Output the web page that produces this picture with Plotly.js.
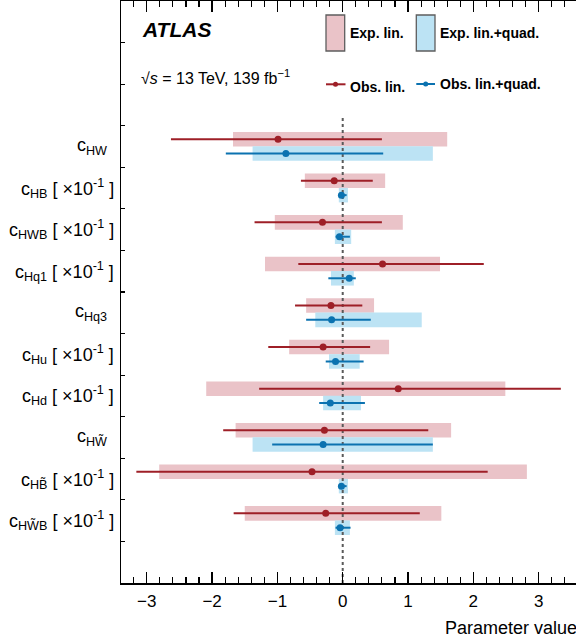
<!DOCTYPE html>
<html>
<head>
<meta charset="utf-8">
<script src="https://cdn.plot.ly/plotly-3.0.1.min.js"></script>
<style>
html,body{margin:0;padding:0;overflow:hidden;background:#fff;}
#chart{width:590px;height:644px;}
</style>
</head>
<body>
<div id="chart"></div>
<script>
// ---- data ----
const labels = [
  "c<sub>HW</sub>",
  "c<sub>HB</sub> [ ×10<sup>-1</sup> ]",
  "c<sub>HWB</sub> [ ×10<sup>-1</sup> ]",
  "c<sub>Hq1</sub> [ ×10<sup>-1</sup> ]",
  "c<sub>Hq3</sub>",
  "c<sub>Hu</sub> [ ×10<sup>-1</sup> ]",
  "c<sub>Hd</sub> [ ×10<sup>-1</sup> ]",
  "c<sub>HW\u0303</sub>",
  "c<sub>HB\u0303</sub> [ ×10<sup>-1</sup> ]",
  "c<sub>HW\u0303B</sub> [ ×10<sup>-1</sup> ]"
];
// Expected (linear) interval
const expLinLo  = [-1.68, -0.58, -1.04, -1.19, -0.56, -0.82, -2.09, -1.64, -2.81, -1.50];
const expLinHi  = [ 1.60,  0.65,  0.92,  1.49,  0.48,  0.71,  2.49,  1.66,  2.82,  1.51];
// Expected (linear + quadratic) interval
const expQuadLo = [-1.38, -0.06, -0.12, -0.18, -0.42, -0.21, -0.30, -1.38, -0.06, -0.12];
const expQuadHi = [ 1.38,  0.08,  0.13,  0.17,  1.21,  0.26,  0.28,  1.38,  0.08,  0.11];
// Observed (linear)
const obsLin    = [-0.99, -0.13, -0.31,  0.61, -0.18, -0.30,  0.85, -0.28, -0.47, -0.26];
const obsLinLo  = [-2.63, -0.64, -1.35, -0.68, -0.73, -1.14, -1.28, -1.83, -3.16, -1.67];
const obsLinHi  = [ 0.60,  0.46,  0.60,  2.16,  0.30,  0.42,  3.34,  1.31,  2.22,  1.18];
// Observed (linear + quadratic)
const obsQuad   = [-0.87, -0.02, -0.05,  0.10, -0.17, -0.11, -0.19, -0.30, -0.02, -0.04];
const obsQuadLo = [-1.79, -0.05, -0.11, -0.22, -0.56, -0.26, -0.36, -1.08, -0.04, -0.11];
const obsQuadHi = [ 0.62,  0.06,  0.11,  0.20,  0.43,  0.32,  0.34,  1.38,  0.06,  0.12];
const xTickVals = [-3, -2, -1, 0, 1, 2, 3];

// ---- styling ----
const RED_FILL = '#eac3c8', BLUE_FILL = '#bce3f4';
const RED = '#9e1f27', BLUE = '#0b72b0';
const FONT = 'Liberation Sans, Arial, Helvetica, sans-serif';

const centers = labels.map((_, i) => 10.5 - i);
const yRed = centers.map(c => c + 0.175);
const yBlue = centers.map(c => c - 0.17);

const traces = [
  {type:'bar', orientation:'h', y:yRed, base:expLinLo,
   x:expLinHi.map((h,i)=>h-expLinLo[i]), width:0.35,
   marker:{color:RED_FILL, line:{width:0}}, showlegend:false, hoverinfo:'skip'},
  {type:'bar', orientation:'h', y:yBlue, base:expQuadLo,
   x:expQuadHi.map((h,i)=>h-expQuadLo[i]), width:0.35,
   marker:{color:BLUE_FILL, line:{width:0}}, showlegend:false, hoverinfo:'skip'},
  {type:'scatter', mode:'lines', x:[0,0], y:[0,11.2],
   line:{color:'#5a5a5a', width:2, dash:'3px,3px'}, showlegend:false, hoverinfo:'skip'},
  {type:'scatter', mode:'markers', x:obsLin, y:yRed,
   marker:{color:RED, size:7},
   error_x:{type:'data', symmetric:false,
     array:obsLinHi.map((h,i)=>h-obsLin[i]),
     arrayminus:obsLin.map((c,i)=>c-obsLinLo[i]),
     color:RED, thickness:2, width:0},
   showlegend:false},
  {type:'scatter', mode:'markers', x:obsQuad, y:yBlue,
   marker:{color:BLUE, size:7},
   error_x:{type:'data', symmetric:false,
     array:obsQuadHi.map((h,i)=>h-obsQuad[i]),
     arrayminus:obsQuad.map((c,i)=>c-obsQuadLo[i]),
     color:BLUE, thickness:2, width:0},
   showlegend:false}
];

// pixel -> paper helpers (plot area 121..585 x 1..583)
const L=121, R=585, T=1, B=583;
const px = x => (x-L)/(R-L);
const py = y => (B-y)/(B-T);

const annotations = labels.map((t,i)=>({
  text:t, xref:'paper', yref:'y', x: t.indexOf('[')>=0 ? px(116) : px(108.5), y:centers[i],
  xanchor:'right', yanchor:'middle', showarrow:false,
  font:{family:FONT, size:18, color:'#000'}
}));
annotations.push(
  {text:'<b><i>ATLAS</i></b>', xref:'paper', yref:'paper', x:px(139.5), y:py(29),
   xanchor:'left', yanchor:'middle', showarrow:false, font:{family:FONT, size:21, color:'#000'}},
  {text:'√<i>s</i> = 13 TeV, 139 fb<sup>−1</sup>', xref:'paper', yref:'paper', x:px(139), y:py(77),
   xanchor:'left', yanchor:'middle', showarrow:false, font:{family:FONT, size:16, color:'#000'}},
  {text:'<b>Exp. lin.</b>', xref:'paper', yref:'paper', x:px(347.5), y:py(32.5),
   xanchor:'left', yanchor:'middle', showarrow:false, font:{family:FONT, size:14, color:'#000'}},
  {text:'<b>Exp. lin.+quad.</b>', xref:'paper', yref:'paper', x:px(438), y:py(32.5),
   xanchor:'left', yanchor:'middle', showarrow:false, font:{family:FONT, size:14, color:'#000'}},
  {text:'<b>Obs. lin.</b>', xref:'paper', yref:'paper', x:px(347.5), y:py(87),
   xanchor:'left', yanchor:'middle', showarrow:false, font:{family:FONT, size:14, color:'#000'}},
  {text:'<b>Obs. lin.+quad.</b>', xref:'paper', yref:'paper', x:px(438), y:py(84),
   xanchor:'left', yanchor:'middle', showarrow:false, font:{family:FONT, size:14, color:'#000'}},
  {text:'Parameter value', xref:'paper', yref:'paper', x:px(442.5), y:py(628),
   xanchor:'left', yanchor:'middle', showarrow:false, font:{family:FONT, size:18, color:'#000'}}
);

const shapes = [
  {type:'rect', xref:'paper', yref:'paper', x0:px(326), x1:px(344.7), y0:py(51), y1:py(15),
   fillcolor:RED_FILL, line:{color:'#5e5e5e', width:1.3}},
  {type:'rect', xref:'paper', yref:'paper', x0:px(416.3), x1:px(435), y0:py(51), y1:py(15),
   fillcolor:BLUE_FILL, line:{color:'#5e5e5e', width:1.3}},
  {type:'line', xref:'paper', yref:'paper', x0:px(326), x1:px(345.5), y0:py(84.3), y1:py(84.3),
   line:{color:RED, width:2}},
  {type:'line', xref:'paper', yref:'paper', x0:px(416.3), x1:px(435), y0:py(84), y1:py(84),
   line:{color:BLUE, width:2}},
  {type:'circle', xref:'paper', yref:'paper', xsizemode:'pixel', ysizemode:'pixel',
   xanchor:px(335.5), yanchor:py(84.3), x0:-2.5, x1:2.5, y0:-2.5, y1:2.5,
   fillcolor:RED, line:{width:0}},
  {type:'circle', xref:'paper', yref:'paper', xsizemode:'pixel', ysizemode:'pixel',
   xanchor:px(425.7), yanchor:py(84), x0:-2.5, x1:2.5, y0:-2.5, y1:2.5,
   fillcolor:BLUE, line:{width:0}}
];

const layout = {
  width:590, height:644,
  margin:{l:121, r:5, t:1, b:61},
  paper_bgcolor:'#fff', plot_bgcolor:'#fff',
  barmode:'overlay',
  showlegend:false,
  font:{family:FONT, color:'#000'},
  xaxis:{
    range:[-3.395, 3.71], tickvals:xTickVals, ticks:'inside', ticklen:11, tickwidth:1.3,
    tickcolor:'#000', showline:true, linecolor:'#000', linewidth:1.5, mirror:'ticks',
    showgrid:false, zeroline:false, tickfont:{family:FONT, size:17, color:'#000'},
    ticklabelstandoff:2,
    minor:{dtick:0.2, tick0:0, ticks:'inside', ticklen:6, tickwidth:1.1, tickcolor:'#000', showgrid:false}
  },
  yaxis:{
    range:[0,14], tickmode:'linear', tick0:0, dtick:1, ticks:'inside', ticklen:4,
    tickwidth:1.1, tickcolor:'#000', showticklabels:false, showline:true, linecolor:'#000',
    linewidth:1.5, mirror:'ticks', showgrid:false, zeroline:false, fixedrange:true
  },
  annotations:annotations,
  shapes:shapes
};

Plotly.newPlot('chart', traces, layout, {displayModeBar:false, staticPlot:true});
</script>
</body>
</html>
